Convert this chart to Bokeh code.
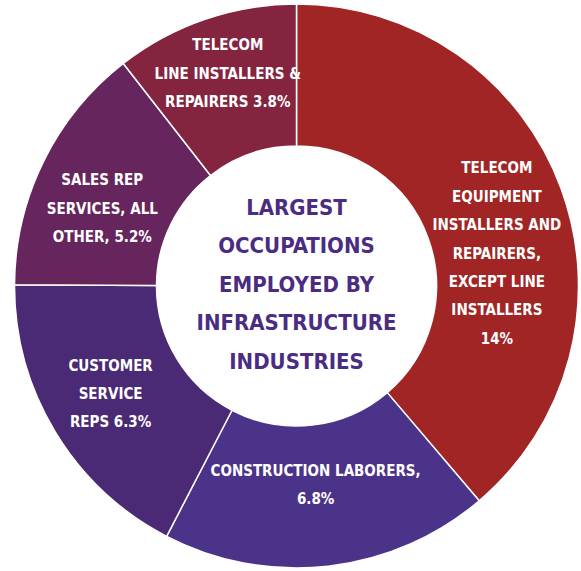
import math
from bokeh.plotting import figure
from bokeh.models import ColumnDataSource, Range1d
from bokeh.core.properties import value
from bokeh.embed import file_html
from bokeh.resources import INLINE

# ---- data ----
occupations = [
    "TELECOM\nEQUIPMENT\nINSTALLERS AND\nREPAIRERS,\nEXCEPT LINE\nINSTALLERS\n14%",
    "CONSTRUCTION LABORERS,\n6.8%",
    "CUSTOMER\nSERVICE\nREPS 6.3%",
    "SALES REP\nSERVICES, ALL\nOTHER, 5.2%",
    "TELECOM\nLINE INSTALLERS &\nREPAIRERS 3.8%",
]
shares = [14.0, 6.8, 6.3, 5.2, 3.8]
colors = ["#A02524", "#4B338A", "#4A2A74", "#66265D", "#85243F"]
center_title = "LARGEST\nOCCUPATIONS\nEMPLOYED BY\nINFRASTRUCTURE\nINDUSTRIES"

# ---- layout ----
W, H = 581, 571
CX, CY = 296, H - 285.5
R_OUT, R_IN = 282, 140
FONT = "'DejaVu Sans Condensed', 'Liberation Sans Narrow', 'Roboto Condensed', 'Liberation Sans', sans-serif"
# label placement nudges (degrees, radius) per slice
label_nudge = [11.0, 1.0, 1.0, -4.5, 1.0]
label_radius = [203, 200, 215, 209, 223]

total = sum(shares)
starts, ends, mids = [], [], []
cum = 0.0
for s in shares:
    a0 = cum / total * 2 * math.pi
    cum += s
    a1 = cum / total * 2 * math.pi
    starts.append(math.pi / 2 - a0)
    ends.append(math.pi / 2 - a1)
    mids.append((a0 + a1) / 2)

lx, ly = [], []
for m, dn, r in zip(mids, label_nudge, label_radius):
    a = m + math.radians(dn)
    lx.append(CX + r * math.sin(a))
    ly.append(CY + r * math.cos(a))

src = ColumnDataSource(dict(start=starts, end=ends, color=colors,
                            label=occupations, lx=lx, ly=ly))

p = figure(width=W, height=H, output_backend="svg", toolbar_location=None,
           x_range=Range1d(0, W), y_range=Range1d(0, H), min_border=0)
p.axis.visible = False
p.grid.visible = False
p.outline_line_color = None
p.background_fill_color = "white"
p.border_fill_color = "white"

p.annular_wedge(x=CX, y=CY, inner_radius=R_IN, outer_radius=R_OUT,
                start_angle="start", end_angle="end", direction="clock",
                fill_color="color", line_color="white", line_width=1.5, source=src)

p.text(x="lx", y="ly", text="label", source=src, text_color="white",
       text_font=value(FONT), text_font_style="bold", text_font_size="15px",
       text_align="center", text_baseline="middle", text_line_height=1.58)

p.text(x=[CX], y=[CY + 2], text=[center_title], text_color="#4A2C82",
       text_font=value(FONT), text_font_style="bold", text_font_size="22px",
       text_align="center", text_baseline="middle", text_line_height=1.54)

open("out.html", "w").write(file_html(p, INLINE))
